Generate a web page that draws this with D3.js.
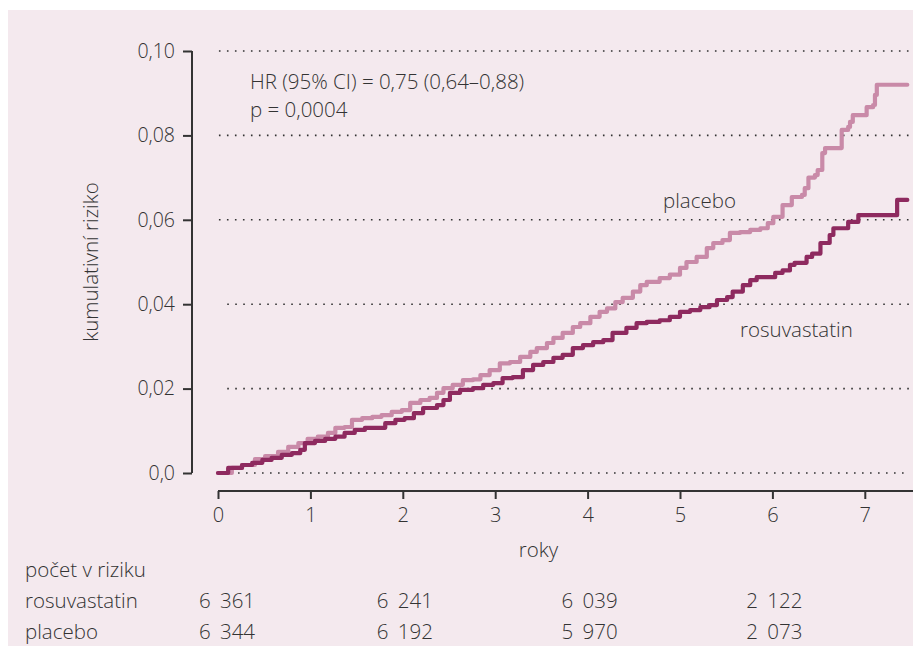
<!DOCTYPE html>
<html><head><meta charset="utf-8">
<script src="https://cdn.jsdelivr.net/npm/d3@7/dist/d3.min.js"></script>
<style>
html,body{margin:0;padding:0;background:#fff;}
svg{display:block;}
text{font-family:"Open Sans","Noto Sans",sans-serif;font-weight:300;fill:#333;}
</style></head>
<body>
<svg id="chart" width="913" height="646"></svg>
<script>
// ---- data ----
const yTicks = [0, 0.02, 0.04, 0.06, 0.08, 0.10];
const yTickLabels = ["0,0", "0,02", "0,04", "0,06", "0,08", "0,10"];
const xTicks = [0, 1, 2, 3, 4, 5, 6, 7];
const riskYears = [0, 2, 4, 6];
const riskRosuvastatin = ["6 361", "6 241", "6 039", "2 122"];
const riskPlacebo = ["6 344", "6 192", "5 970", "2 073"];

const placeboT = [0,0.15,0.26,0.4,0.51,0.65,0.76,0.87,0.97,1.08,1.19,1.27,1.37,1.45,1.56,1.67,1.77,1.88,1.99,2.08,2.19,2.29,2.37,2.44,2.54,2.65,2.76,2.84,2.94,3.05,3.16,3.27,3.38,3.45,3.56,3.63,3.73,3.84,3.92,4.03,4.13,4.21,4.3,4.38,4.49,4.57,4.64,4.78,4.89,5.0,5.07,5.18,5.29,5.36,5.46,5.54,5.65,5.76,5.87,5.95,6.01,6.11,6.21,6.32,6.35,6.39,6.46,6.49,6.54,6.57,6.75,6.82,6.84,6.87,7.02,7.09,7.11,7.13,7.46];
const placeboV = [0,0.0012,0.0019,0.0033,0.004,0.005,0.0062,0.0071,0.0081,0.0086,0.0095,0.0107,0.0109,0.0126,0.013,0.0133,0.0137,0.0145,0.0149,0.0166,0.0173,0.0178,0.019,0.0201,0.0209,0.022,0.0222,0.0232,0.0244,0.026,0.0263,0.0275,0.0287,0.0296,0.0308,0.032,0.0332,0.0346,0.0355,0.037,0.0382,0.039,0.0405,0.0415,0.043,0.0445,0.0453,0.0462,0.047,0.0486,0.05,0.0512,0.0533,0.0545,0.0552,0.0569,0.0571,0.0576,0.058,0.0592,0.0607,0.0635,0.0654,0.0659,0.0675,0.07,0.0706,0.0718,0.0758,0.077,0.0813,0.082,0.0832,0.0848,0.0867,0.0872,0.0896,0.092,0.092];

const rosuT = [0,0.11,0.26,0.37,0.48,0.58,0.69,0.8,0.89,0.94,1.05,1.16,1.27,1.37,1.48,1.59,1.81,1.92,2.02,2.12,2.22,2.37,2.44,2.51,2.62,2.76,2.87,2.98,3.08,3.19,3.3,3.41,3.52,3.63,3.73,3.84,3.95,4.06,4.17,4.27,4.42,4.53,4.64,4.78,4.89,5.0,5.11,5.22,5.32,5.4,5.51,5.57,5.68,5.76,5.83,6.03,6.11,6.19,6.24,6.37,6.43,6.52,6.62,6.66,6.82,6.93,7.35,7.46];
const rosuV = [0,0.0012,0.0019,0.0024,0.0031,0.0036,0.0043,0.0047,0.0055,0.0071,0.0076,0.0081,0.0086,0.0095,0.0102,0.0107,0.0118,0.0126,0.013,0.0142,0.0154,0.0161,0.0173,0.019,0.0197,0.0201,0.0209,0.0213,0.0225,0.0227,0.0244,0.0256,0.0263,0.0273,0.028,0.0296,0.0303,0.031,0.0315,0.0332,0.0344,0.0355,0.0358,0.0362,0.037,0.0382,0.0386,0.0393,0.0398,0.041,0.0417,0.043,0.0445,0.0457,0.0464,0.0474,0.048,0.0493,0.0498,0.0512,0.052,0.0545,0.0564,0.058,0.0595,0.0611,0.0647,0.0647];

// ---- drawing ----
const svg = d3.select("#chart");
const ink = "#333";
svg.append("rect").attr("x", 8).attr("y", 10).attr("width", 905).attr("height", 636).attr("fill", "#f4e9ee");

const x = d3.scaleLinear().domain([0, 7.5]).range([218, 911]);
const y = d3.scaleLinear().domain([0, 0.10]).range([473, 51]);

// grid
svg.append("g").selectAll("line").data(yTicks).join("line")
  .attr("x1", d => d === 0 ? x(0.13) : (d <= 0.04 ? x(0.1) : x(0.01)))
  .attr("x2", 909)
  .attr("y1", d => y(d)).attr("y2", d => y(d))
  .attr("stroke", ink).attr("stroke-width", 1.6)
  .attr("stroke-dasharray", "1.6,6.4");

// y axis
const yAxis = d3.axisLeft(y).tickValues(yTicks).tickSize(9).tickPadding(8)
  .tickFormat((d, i) => yTickLabels[i]);
const gy = svg.append("g").attr("transform", "translate(192,0)").call(yAxis);
gy.select(".domain").attr("d", `M0,${y(0.10)}V${y(0)}`).attr("stroke", ink).attr("stroke-width", 2);
gy.selectAll(".tick line").attr("stroke", ink).attr("stroke-width", 2);
gy.selectAll(".tick text").attr("font-size", 19.5).attr("font-family", null).style("fill", "#333");

// x axis
const xAxis = d3.axisBottom(x).tickValues(xTicks).tickSize(8).tickPadding(9).tickFormat(d3.format("d"));
const gx = svg.append("g").attr("transform", "translate(0,491)").call(xAxis);
gx.select(".domain").attr("d", `M${x(0)},0H913`).attr("stroke", ink).attr("stroke-width", 2);
gx.selectAll(".tick line").attr("stroke", ink).attr("stroke-width", 2);
gx.selectAll(".tick text").attr("font-size", 20).attr("font-family", null).style("fill", "#333");

// lines
const line = d3.line().x(d => x(d[0])).y(d => y(d[1])).curve(d3.curveStepAfter);
const placebo = placeboT.map((t, i) => [t, placeboV[i]]);
const rosu = rosuT.map((t, i) => [t, rosuV[i]]);
svg.append("path").datum(placebo).attr("d", line).attr("fill", "none")
  .attr("stroke", "#c98aa8").attr("stroke-width", 4.2).attr("stroke-linejoin", "round").attr("stroke-linecap", "round");
svg.append("path").datum(rosu).attr("d", line).attr("fill", "none")
  .attr("stroke", "#8e2a5f").attr("stroke-width", 4.2).attr("stroke-linejoin", "round").attr("stroke-linecap", "round");

// texts
const FS = 20.5;
const T = (tx, ty, s, opts = {}) => svg.append("text").attr("x", tx).attr("y", ty)
  .attr("font-size", opts.size || FS).attr("text-anchor", opts.anchor || "start").text(s);
T(250, 89, "HR (95% CI) = 0,75 (0,64–0,88)");
T(250, 117, "p = 0,0004");
T(663, 208, "placebo");
T(740, 337, "rosuvastatin");
T(x(3.5) - 3, 557, "roky", {anchor: "middle"});
svg.append("text").attr("transform", "translate(98,262) rotate(-90)")
  .attr("text-anchor", "middle").attr("font-size", FS).text("kumulativní riziko");

// risk table
T(25, 577, "počet v riziku");
T(25, 608, "rosuvastatin");
T(25, 639, "placebo");
svg.append("g").selectAll("text").data(riskYears).join("text")
  .attr("x", d => x(d) + (d === 0 ? 9 : 2)).attr("y", 608).attr("text-anchor", "middle")
  .attr("font-size", FS).attr("word-spacing", 4).text((d, i) => riskRosuvastatin[i]);
svg.append("g").selectAll("text").data(riskYears).join("text")
  .attr("x", d => x(d) + (d === 0 ? 9 : 2)).attr("y", 639).attr("text-anchor", "middle")
  .attr("font-size", FS).attr("word-spacing", 4).text((d, i) => riskPlacebo[i]);
</script>
</body></html>
